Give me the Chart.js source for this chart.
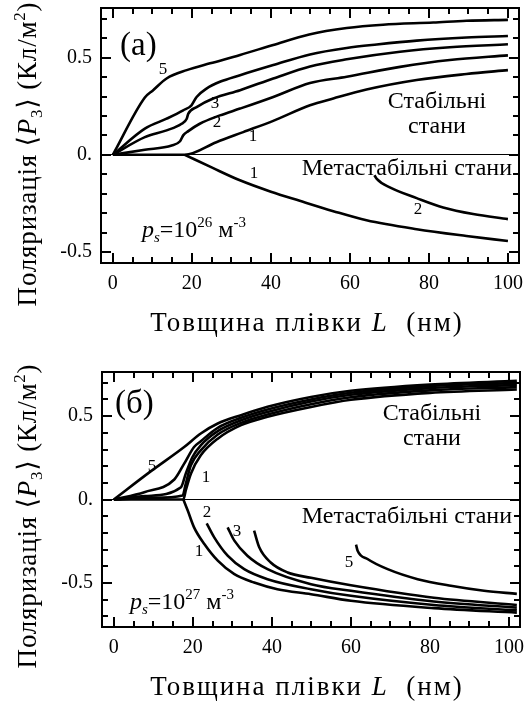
<!DOCTYPE html>
<html>
<head>
<meta charset="utf-8">
<script src="https://cdn.jsdelivr.net/npm/chart.js@4.4.1/dist/chart.umd.min.js"></script>
<style>
  body { margin: 0; background: #fff; }
  .panel { position: absolute; left: 0; width: 527px; height: 351px; }
</style>
</head>
<body>
<div class="panel" style="top:0"><canvas id="chartA" width="527" height="351"></canvas></div>
<div class="panel" style="top:351px"><canvas id="chartB" width="527" height="351"></canvas></div>
<script>
const FONT = "'Liberation Serif', 'DejaVu Serif', serif";

// (а) p_s = 10^26 m^-3 : thickness L (nm) and polarization <P3> (C/m^2)
const a5L = [0, 8.1, 10.2, 13.6, 18.7, 24.6, 32.2, 40.6, 49.7, 59.2, 68.4, 81.1, 89.5, 100];
const a5P = [0, 0.295, 0.333, 0.393, 0.436, 0.471, 0.514, 0.566, 0.620, 0.653, 0.670, 0.681, 0.690, 0.695];
const a4L = [0, 8.1, 13.6, 17.8, 19.9, 21.2, 23.7, 27.1, 32.2, 40.6, 49.9, 59.2, 66.8, 76.9, 89.5, 100];
const a4P = [0, 0.135, 0.186, 0.229, 0.255, 0.298, 0.341, 0.376, 0.410, 0.462, 0.517, 0.550, 0.568, 0.588, 0.604, 0.612];
const a3L = [0, 8.1, 13.6, 17.4, 18.7, 19.1, 21.2, 25.4, 32.2, 40.6, 49.9, 59.2, 72.7, 85.3, 100];
const a3P = [0, 0.091, 0.126, 0.160, 0.186, 0.212, 0.246, 0.290, 0.333, 0.393, 0.455, 0.492, 0.531, 0.554, 0.569];
const a2L = [0, 8.1, 14.9, 17.0, 17.8, 19.1, 22.0, 27.1, 32.2, 40.6, 49.9, 59.2, 72.7, 85.3, 100];
const a2P = [0, 0.026, 0.048, 0.070, 0.100, 0.122, 0.160, 0.203, 0.238, 0.298, 0.370, 0.402, 0.453, 0.488, 0.512];
const a1L = [0, 18.2, 26.2, 33.0, 40.6, 49.9, 55.8, 64.2, 76.9, 89.5, 100];
const a1P = [0, 0, 0.065, 0.117, 0.175, 0.255, 0.290, 0.336, 0.385, 0.416, 0.436];
const a1mL = [18.2, 25, 32, 40, 47.3, 55.8, 64.2, 76.9, 89.5, 100];
const a1mP = [0, -0.065, -0.130, -0.190, -0.237, -0.290, -0.337, -0.383, -0.418, -0.444];
const a2mL = [66.2, 66.8, 70.1, 76.9, 83.6, 91.2, 100];
const a2mP = [-0.105, -0.124, -0.168, -0.223, -0.271, -0.305, -0.331];

// (б) p_s = 10^27 m^-3
const b5L = [0, 9.4, 17.8, 22.0, 26.3, 32.2, 38.9, 49.9, 60, 80, 102];
const b5P = [0, 0.170, 0.315, 0.396, 0.456, 0.506, 0.556, 0.615, 0.652, 0.690, 0.712];
const b4L = [0, 7.7, 15.3, 17.8, 20.3, 22.0, 26.3, 32.2, 38.9, 49.9, 60, 80, 102];
const b4P = [0, 0.044, 0.120, 0.215, 0.315, 0.350, 0.430, 0.490, 0.540, 0.600, 0.640, 0.680, 0.700];
const b3L = [0, 8, 17.0, 18.2, 19.9, 22.0, 26.3, 32.2, 38.9, 49.9, 60, 80, 102];
const b3P = [0, 0.020, 0.074, 0.155, 0.255, 0.325, 0.410, 0.475, 0.525, 0.588, 0.628, 0.668, 0.688];
const b2L = [0, 10, 17.4, 18.2, 19.5, 22.0, 26.3, 32.2, 38.9, 49.9, 60, 80, 102];
const b2P = [0, 0.010, 0.024, 0.094, 0.205, 0.295, 0.390, 0.460, 0.510, 0.572, 0.614, 0.655, 0.674];
const b1L = [0, 17.6, 18.2, 19.5, 22.0, 26.3, 32.2, 38.9, 49.9, 60, 80, 102];
const b1P = [0, 0, 0.054, 0.155, 0.265, 0.365, 0.446, 0.496, 0.555, 0.598, 0.640, 0.660];
const b1mL = [17.6, 18.7, 20.3, 22.9, 26.3, 30.5, 35.5, 41.4, 49.9, 60, 81, 102];
const b1mP = [0, -0.066, -0.167, -0.267, -0.367, -0.448, -0.498, -0.538, -0.568, -0.608, -0.652, -0.679];
const b2mL = [23.5, 25.4, 28.8, 33.0, 38.9, 49.9, 60, 81, 102];
const b2mP = [-0.143, -0.227, -0.337, -0.418, -0.478, -0.538, -0.578, -0.633, -0.665];
const b3mL = [28.8, 30.5, 33.8, 38.9, 49.9, 60, 81, 102];
const b3mP = [-0.167, -0.247, -0.337, -0.418, -0.508, -0.548, -0.612, -0.649];
const b4mL = [35.5, 36.8, 39.7, 44.0, 49.9, 60, 81, 102];
const b4mP = [-0.187, -0.287, -0.378, -0.438, -0.470, -0.515, -0.590, -0.633];
const b5mL = [61.3, 61.7, 64.2, 69.3, 76.9, 85.3, 93.7, 102];
const b5mP = [-0.271, -0.307, -0.357, -0.418, -0.478, -0.518, -0.548, -0.566];

const xTickStep = 20, xMinorStep = 5, yTickStep = 0.5, yMinorStep = 0.1;

function curve(L, P) {
  return {
    data: L.map((x, i) => ({ x, y: P[i] })),
    borderColor: '#000', borderWidth: 2.6, pointRadius: 0,
    cubicInterpolationMode: 'monotone', fill: false
  };
}

function yLabel(v) {
  if (v === 0) return '0.';
  return String(v);
}

// keep the frame exactly where the layout puts it (no room reserved for edge labels)
function noPad(s) {
  s.paddingLeft = 0; s.paddingRight = 0; s.paddingTop = 0; s.paddingBottom = 0;
}

function frameScales(xr, yr, leftW, bottomH) {
  const tickFont = { family: FONT, size: 20 };
  return {
    x: {
      type: 'linear', min: xr[0], max: xr[1],
      ticks: { stepSize: xTickStep, includeBounds: false, font: tickFont, color: '#000', padding: 9, maxRotation: 0, autoSkip: false },
      grid: { drawOnChartArea: false, drawTicks: false },
      border: { display: false },
      afterFit: s => { noPad(s); s.height = bottomH; }
    },
    y: {
      type: 'linear', min: yr[0], max: yr[1],
      ticks: { stepSize: yTickStep, includeBounds: false, font: tickFont, color: '#000', padding: 9, callback: yLabel },
      grid: {
        drawOnChartArea: true, drawTicks: false, lineWidth: 1,
        color: c => (c.tick && c.tick.value === 0 ? '#000' : 'rgba(0,0,0,0)')
      },
      border: { display: false },
      afterFit: s => { noPad(s); s.width = leftW; }
    }
  };
}

// boxed frame with tick marks pointing into the plot on all four sides (long on labelled steps)
const frameTicks = {
  id: 'frameTicks',
  afterDatasetsDraw(chart) {
    const ctx = chart.ctx;
    const sx = chart.scales.x, sy = chart.scales.y;
    const left = sx.getPixelForValue(sx.min), right = sx.getPixelForValue(sx.max);
    const bottom = sy.getPixelForValue(sy.min), top = sy.getPixelForValue(sy.max);
    ctx.save();
    ctx.strokeStyle = '#000';
    ctx.fillStyle = '#000';
    ctx.lineWidth = 2;
    ctx.strokeRect(left, top, right - left, bottom - top);
    const w = 2;
    const xFirst = Math.ceil(sx.min / xMinorStep - 1e-9), xLast = Math.floor(sx.max / xMinorStep + 1e-9);
    for (let n = xFirst; n <= xLast; n++) {
      const len = n % (xTickStep / xMinorStep) === 0 ? 10 : 6;
      const p = Math.round(sx.getPixelForValue(n * xMinorStep) - w / 2);
      ctx.fillRect(p, bottom - len, w, len);
      ctx.fillRect(p, top, w, len);
    }
    const yFirst = Math.ceil(sy.min / yMinorStep - 1e-9), yLast = Math.floor(sy.max / yMinorStep + 1e-9);
    for (let n = yFirst; n <= yLast; n++) {
      const len = n % Math.round(yTickStep / yMinorStep) === 0 ? 10 : 6;
      const p = Math.round(sy.getPixelForValue(n * yMinorStep) - w / 2);
      ctx.fillRect(left, p, len, w);
      ctx.fillRect(right - len, p, len, w);
    }
    ctx.restore();
  }
};

// text made of plain, italic, sub- and superscript pieces
function rich(ctx, parts, x, y, size, align, spacing) {
  ctx.letterSpacing = (spacing || 0) + 'px';
  const segs = parts.map(p => {
    const s = p.sub || p.sup ? Math.round(size * 0.62) : size;
    const font = (p.it ? 'italic ' : '') + s + 'px ' + FONT;
    ctx.font = font;
    return { t: p.t, font, w: ctx.measureText(p.t).width, dy: p.sub ? size * 0.22 : p.sup ? -size * 0.42 : 0 };
  });
  const total = segs.reduce((a, s) => a + s.w, 0);
  let cx = align === 'center' ? x - total / 2 : align === 'right' ? x - total : x;
  ctx.textAlign = 'left';
  ctx.textBaseline = 'alphabetic';
  ctx.fillStyle = '#000';
  segs.forEach(s => { ctx.font = s.font; ctx.fillText(s.t, cx, y + s.dy); cx += s.w; });
  ctx.letterSpacing = '0px';
}

const yTitle = [
  { t: 'Поляризація ' }, { t: '\u27E8' }, { t: 'P', it: 1 }, { t: '3', sub: 1 },
  { t: '\u27E9 (Кл/м' }, { t: '2', sup: 1 }, { t: ')' }
];
const xTitle = [{ t: 'Товщина плівки ' }, { t: 'L', it: 1 }, { t: '  (нм)' }];

function annotations(id, n) {
  return {
    id: id,
    afterDraw(chart) {
      const ctx = chart.ctx;
      ctx.save();
      ctx.translate(n.yTitle[0], n.yTitle[1]);
      ctx.rotate(-Math.PI / 2);
      rich(ctx, yTitle, 0, 0, 27, 'center', 0.8);
      ctx.restore();
      ctx.save();
      rich(ctx, xTitle, n.xTitle[0], n.xTitle[1], 27, 'center', 2);
      rich(ctx, [{ t: n.tag }], n.tagAt[0], n.tagAt[1], 33, 'left');
      rich(ctx, [{ t: 'Стабільні' }], n.stable[0], n.stable[1], 24, 'center');
      rich(ctx, [{ t: 'стани' }], n.stable[0], n.stable[1] + 25, 24, 'center');
      rich(ctx, [{ t: 'Метастабільні стани' }], n.meta[0], n.meta[1], 24, 'right');
      rich(ctx, [
        { t: 'p', it: 1 }, { t: 's', it: 1, sub: 1 }, { t: '=10' }, { t: n.exp, sup: 1 },
        { t: ' м' }, { t: '-3', sup: 1 }
      ], n.ps[0], n.ps[1], 24, 'left');
      ctx.font = '17px ' + FONT;
      ctx.textAlign = 'center';
      ctx.textBaseline = 'middle';
      n.nums.forEach(d => ctx.fillText(d[0], d[1], d[2]));
      ctx.restore();
    }
  };
}

function build(id, sets, xr, yr, pad, leftW, bottomH, notes) {
  new Chart(document.getElementById(id), {
    type: 'line',
    data: { datasets: sets },
    options: {
      responsive: false,
      animation: false,
      devicePixelRatio: 1,
      layout: { padding: pad },
      plugins: { legend: { display: false }, tooltip: { enabled: false } },
      scales: frameScales(xr, yr, leftW, bottomH)
    },
    plugins: [frameTicks, annotations(id + 'Notes', notes)]
  });
}

build('chartA',
  [curve(a5L, a5P), curve(a4L, a4P), curve(a3L, a3P), curve(a2L, a2P), curve(a1L, a1P),
   curve(a1mL, a1mP), curve(a2mL, a2mP)],
  [-3, 102.8], [-0.557, 0.756],
  { top: 8, right: 8, left: 0, bottom: 0 }, 101, 88,
  {
    yTitle: [36, 154], xTitle: [307, 331], tag: '(a)', tagAt: [120, 55],
    stable: [437, 108], meta: [512, 175], ps: [142, 237], exp: '26',
    nums: [['5', 163, 70], ['3', 215, 104], ['2', 217, 123], ['1', 253, 137], ['1', 254, 174], ['2', 418, 210]]
  });

build('chartB',
  [curve(b5L, b5P), curve(b4L, b4P), curve(b3L, b3P), curve(b2L, b2P), curve(b1L, b1P),
   curve(b1mL, b1mP), curve(b2mL, b2mP), curve(b3mL, b3mP), curve(b4mL, b4mP), curve(b5mL, b5mP)],
  [-3, 102.8], [-0.765, 0.765],
  { top: 21, right: 7, left: 0, bottom: 0 }, 102, 75,
  {
    yTitle: [36, 165], xTitle: [307, 344], tag: '(б)', tagAt: [115, 62],
    stable: [432, 69], meta: [512, 172], ps: [130, 258], exp: '27',
    nums: [['5', 152, 116], ['1', 206, 127], ['2', 207, 162], ['1', 199, 201], ['3', 237, 181], ['5', 349, 212]]
  });
</script>
</body>
</html>
